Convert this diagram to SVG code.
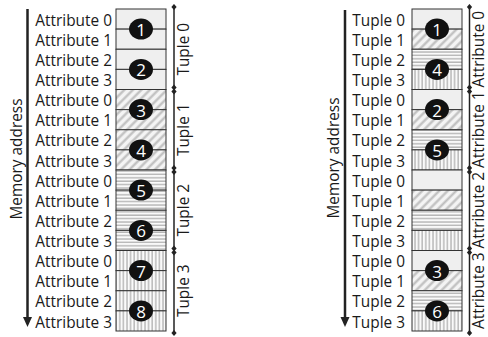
<svg xmlns="http://www.w3.org/2000/svg" width="488" height="337" viewBox="0 0 488 337">
<defs>
<pattern id="diag" width="6" height="6" patternUnits="userSpaceOnUse" patternTransform="rotate(45)">
<rect width="6" height="6" fill="#f4f4f4"/>
<line x1="1.5" y1="0" x2="1.5" y2="6" stroke="#bdbdbd" stroke-width="2.2"/>
</pattern>
<pattern id="hor" width="4" height="3.4" patternUnits="userSpaceOnUse">
<rect width="4" height="3.4" fill="#fafafa"/>
<line x1="0" y1="1" x2="4" y2="1" stroke="#b5b5b5" stroke-width="1.4"/>
</pattern>
<pattern id="ver" width="3.6" height="4" patternUnits="userSpaceOnUse">
<rect width="3.6" height="4" fill="#fafafa"/>
<line x1="1" y1="0" x2="1" y2="4" stroke="#b5b5b5" stroke-width="1.4"/>
</pattern>
<marker id="dia" viewBox="-4 -4 8 8" markerWidth="7" markerHeight="7" refX="0" refY="0" markerUnits="userSpaceOnUse">
<path d="M0,-3.5 L3,0 L0,3.5 L-3,0 Z" fill="#222"/>
</marker>
</defs>
<style>
text{font-family:"Open Sans","Noto Sans","Liberation Sans",sans-serif;fill:#1a1a1a;font-size:15.4px}
.lab{text-anchor:end}
.rot{text-anchor:middle}
.cell{stroke:#333;stroke-width:1}
.p0{fill:#efefef}.p1{fill:url(#diag)}.p2{fill:url(#hor)}.p3{fill:url(#ver)}
.num ellipse{fill:#111}
.num text{fill:#fff;font-size:17px;text-anchor:middle;dominant-baseline:central}
.br{stroke:#222;stroke-width:1.5;marker-start:url(#dia);marker-end:url(#dia)}
.ax{stroke:#222;stroke-width:2.5}
</style>

<!-- Left panel: row-wise layout -->
<g id="left-axis">
<line class="ax" x1="27.5" y1="9" x2="27.5" y2="318"/>
<polygon points="23,317 32,317 27.5,327" fill="#222"/>
<text class="rot" transform="translate(22,159) rotate(-90)">Memory address</text>
</g>

<g id="left-labels">
<text class="lab" x="112" y="25.6">Attribute 0</text>
<text class="lab" x="112" y="45.7">Attribute 1</text>
<text class="lab" x="112" y="65.9">Attribute 2</text>
<text class="lab" x="112" y="86.0">Attribute 3</text>
<text class="lab" x="112" y="106.1">Attribute 0</text>
<text class="lab" x="112" y="126.2">Attribute 1</text>
<text class="lab" x="112" y="146.4">Attribute 2</text>
<text class="lab" x="112" y="166.5">Attribute 3</text>
<text class="lab" x="112" y="186.6">Attribute 0</text>
<text class="lab" x="112" y="206.7">Attribute 1</text>
<text class="lab" x="112" y="226.9">Attribute 2</text>
<text class="lab" x="112" y="247.0">Attribute 3</text>
<text class="lab" x="112" y="267.1">Attribute 0</text>
<text class="lab" x="112" y="287.2">Attribute 1</text>
<text class="lab" x="112" y="307.4">Attribute 2</text>
<text class="lab" x="112" y="327.5">Attribute 3</text>
</g>

<g id="left-cells">
<rect class="cell p0" x="116" y="9" width="50" height="20.125"/>
<rect class="cell p0" x="116" y="29.125" width="50" height="20.125"/>
<rect class="cell p0" x="116" y="49.25" width="50" height="20.125"/>
<rect class="cell p0" x="116" y="69.375" width="50" height="20.125"/>
<rect class="cell p1" x="116" y="89.5" width="50" height="20.125"/>
<rect class="cell p1" x="116" y="109.625" width="50" height="20.125"/>
<rect class="cell p1" x="116" y="129.75" width="50" height="20.125"/>
<rect class="cell p1" x="116" y="149.875" width="50" height="20.125"/>
<rect class="cell p2" x="116" y="170" width="50" height="20.125"/>
<rect class="cell p2" x="116" y="190.125" width="50" height="20.125"/>
<rect class="cell p2" x="116" y="210.25" width="50" height="20.125"/>
<rect class="cell p2" x="116" y="230.375" width="50" height="20.125"/>
<rect class="cell p3" x="116" y="250.5" width="50" height="20.125"/>
<rect class="cell p3" x="116" y="270.625" width="50" height="20.125"/>
<rect class="cell p3" x="116" y="290.75" width="50" height="20.125"/>
<rect class="cell p3" x="116" y="310.875" width="50" height="20.125"/>
</g>

<g id="left-nums" class="num">
<g id="l1"><ellipse cx="141" cy="29.1" rx="12" ry="10.5"/><text x="141" y="29.6">1</text></g>
<g id="l2"><ellipse cx="141" cy="69.4" rx="12" ry="10.5"/><text x="141" y="69.9">2</text></g>
<g id="l3"><ellipse cx="141" cy="109.6" rx="12" ry="10.5"/><text x="141" y="110.1">3</text></g>
<g id="l4"><ellipse cx="141" cy="149.9" rx="12" ry="10.5"/><text x="141" y="150.4">4</text></g>
<g id="l5"><ellipse cx="141" cy="190.1" rx="12" ry="10.5"/><text x="141" y="190.6">5</text></g>
<g id="l6"><ellipse cx="141" cy="230.4" rx="12" ry="10.5"/><text x="141" y="230.9">6</text></g>
<g id="l7"><ellipse cx="141" cy="270.6" rx="12" ry="10.5"/><text x="141" y="271.1">7</text></g>
<g id="l8"><ellipse cx="141" cy="310.9" rx="12" ry="10.5"/><text x="141" y="311.4">8</text></g>
</g>

<g id="left-brackets">
<line class="br" x1="174" y1="7" x2="174" y2="87.5"/>
<line class="br" x1="174" y1="91.5" x2="174" y2="168"/>
<line class="br" x1="174" y1="172" x2="174" y2="248.5"/>
<line class="br" x1="174" y1="252.5" x2="174" y2="333"/>
<text class="rot" transform="translate(189,49.25) rotate(-90)">Tuple 0</text>
<text class="rot" transform="translate(189,129.75) rotate(-90)">Tuple 1</text>
<text class="rot" transform="translate(189,210.25) rotate(-90)">Tuple 2</text>
<text class="rot" transform="translate(189,290.75) rotate(-90)">Tuple 3</text>
</g>

<!-- Right panel: column-wise layout -->
<g id="right-axis">
<line class="ax" x1="345" y1="10" x2="345" y2="318"/>
<polygon points="340.5,317 349.5,317 345,327" fill="#222"/>
<text class="rot" transform="translate(339,158) rotate(-90)">Memory address</text>
</g>

<g id="right-labels">
<text class="lab" x="405" y="25.6">Tuple 0</text>
<text class="lab" x="405" y="45.7">Tuple 1</text>
<text class="lab" x="405" y="65.9">Tuple 2</text>
<text class="lab" x="405" y="86.0">Tuple 3</text>
<text class="lab" x="405" y="106.1">Tuple 0</text>
<text class="lab" x="405" y="126.2">Tuple 1</text>
<text class="lab" x="405" y="146.4">Tuple 2</text>
<text class="lab" x="405" y="166.5">Tuple 3</text>
<text class="lab" x="405" y="186.6">Tuple 0</text>
<text class="lab" x="405" y="206.7">Tuple 1</text>
<text class="lab" x="405" y="226.9">Tuple 2</text>
<text class="lab" x="405" y="247.0">Tuple 3</text>
<text class="lab" x="405" y="267.1">Tuple 0</text>
<text class="lab" x="405" y="287.2">Tuple 1</text>
<text class="lab" x="405" y="307.4">Tuple 2</text>
<text class="lab" x="405" y="327.5">Tuple 3</text>
</g>

<g id="right-cells">
<rect class="cell p0" x="412" y="9" width="50" height="20.125"/>
<rect class="cell p1" x="412" y="29.125" width="50" height="20.125"/>
<rect class="cell p2" x="412" y="49.25" width="50" height="20.125"/>
<rect class="cell p3" x="412" y="69.375" width="50" height="20.125"/>
<rect class="cell p0" x="412" y="89.5" width="50" height="20.125"/>
<rect class="cell p1" x="412" y="109.625" width="50" height="20.125"/>
<rect class="cell p2" x="412" y="129.75" width="50" height="20.125"/>
<rect class="cell p3" x="412" y="149.875" width="50" height="20.125"/>
<rect class="cell p0" x="412" y="170" width="50" height="20.125"/>
<rect class="cell p1" x="412" y="190.125" width="50" height="20.125"/>
<rect class="cell p2" x="412" y="210.25" width="50" height="20.125"/>
<rect class="cell p3" x="412" y="230.375" width="50" height="20.125"/>
<rect class="cell p0" x="412" y="250.5" width="50" height="20.125"/>
<rect class="cell p1" x="412" y="270.625" width="50" height="20.125"/>
<rect class="cell p2" x="412" y="290.75" width="50" height="20.125"/>
<rect class="cell p3" x="412" y="310.875" width="50" height="20.125"/>
</g>

<g id="right-nums" class="num">
<g id="r1"><ellipse cx="437" cy="29.1" rx="12" ry="10.5"/><text x="437" y="29.6">1</text></g>
<g id="r4"><ellipse cx="437" cy="69.4" rx="12" ry="10.5"/><text x="437" y="69.9">4</text></g>
<g id="r2"><ellipse cx="437" cy="109.6" rx="12" ry="10.5"/><text x="437" y="110.1">2</text></g>
<g id="r5"><ellipse cx="437" cy="149.9" rx="12" ry="10.5"/><text x="437" y="150.4">5</text></g>
<g id="r3"><ellipse cx="437" cy="270.6" rx="12" ry="10.5"/><text x="437" y="271.1">3</text></g>
<g id="r6"><ellipse cx="437" cy="310.9" rx="12" ry="10.5"/><text x="437" y="311.4">6</text></g>
</g>

<g id="right-brackets">
<line class="br" x1="469.5" y1="7" x2="469.5" y2="87.5"/>
<line class="br" x1="469.5" y1="91.5" x2="469.5" y2="168"/>
<line class="br" x1="469.5" y1="172" x2="469.5" y2="248.5"/>
<line class="br" x1="469.5" y1="252.5" x2="469.5" y2="333"/>
<text class="rot" transform="translate(484,49.25) rotate(-90)">Attribute 0</text>
<text class="rot" transform="translate(484,129.75) rotate(-90)">Attribute 1</text>
<text class="rot" transform="translate(484,210.25) rotate(-90)">Attribute 2</text>
<text class="rot" transform="translate(484,290.75) rotate(-90)">Attribute 3</text>
</g>
</svg>
